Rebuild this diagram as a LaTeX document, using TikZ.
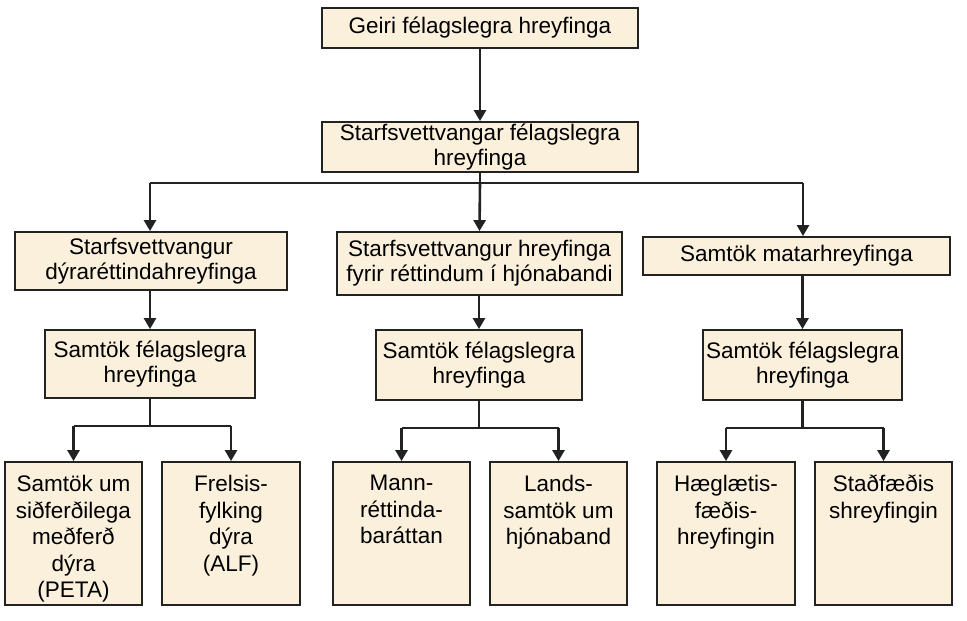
\documentclass[tikz,border=0pt]{standalone}
\usepackage{fontspec}
\setmainfont{Liberation Sans}
\usetikzlibrary{arrows.meta}
\definecolor{boxfill}{HTML}{FBF0DC}
\definecolor{ink}{HTML}{222222}
\begin{document}
\begin{tikzpicture}[x=1pt,y=-1pt,
  box/.style={draw=ink,line width=1.8pt,fill=boxfill,inner sep=0pt,font=\fontsize{22.5}{25}\selectfont,align=center},
  lab/.style={inner sep=0pt,font=\fontsize{22.5}{26.5}\selectfont,align=center,anchor=north},
  con/.style={draw=ink,line width=2.6pt},
  arr/.style={con,-{Triangle[length=11pt,width=12pt]}}]
\useasboundingbox (0,0) rectangle (967,621);
\newcommand{\bx}[6]{\node[box,minimum width=#4-#2,minimum height=#5-#3] (#1) at ({(#2+#4)/2},{(#3+#5)/2}) {#6};}
\bx{top}{322}{8}{638}{48}{Geiri félagslegra hreyfinga}
\bx{mid}{322}{122}{638}{172}{Starfsvettvangar félagslegra\\hreyfinga}
\bx{a}{15}{232}{287}{290}{Starfsvettvangur\\dýraréttindahreyfinga}
\bx{b}{337}{232}{622}{295}{Starfsvettvangur hreyfinga\\fyrir réttindum í hjónabandi}
\bx{c}{643}{237}{950}{275}{Samtök matarhreyfinga}
\bx{a2}{45}{330}{255}{398}{Samtök félagslegra\\hreyfinga}
\bx{b2}{376}{330}{582}{400}{Samtök félagslegra\\hreyfinga}
\bx{c2}{703}{330}{902}{400}{Samtök félagslegra\\hreyfinga}
\bx{a3}{5}{462}{142}{605}{}
\bx{a4}{162}{462}{300}{605}{}
\bx{b3}{333}{462}{470}{605}{}
\bx{b4}{490}{462}{627}{605}{}
\bx{c3}{657}{462}{795}{605}{}
\bx{c4}{815}{462}{952}{605}{}
\node[lab] (ta3) at ([yshift=-14pt]a3.north) {Samtök um\\siðferðilega\\meðferð\\dýra\\(PETA)};
\node[lab] (ta4) at ([yshift=-14pt]a4.north) {Frelsis-\\fylking\\dýra\\(ALF)};
\node[lab] (tb3) at ([yshift=-14pt]b3.north) {Mann-\\réttinda-\\baráttan};
\node[lab] (tb4) at ([yshift=-14pt]b4.north) {Lands-\\samtök um\\hjónaband};
\node[lab] (tc3) at ([yshift=-14pt]c3.north) {Hæglætis-\\fæðis-\\hreyfingin};
\node[lab] (tc4) at ([yshift=-14pt]c4.north) {Staðfæðis\\shreyfingin};
\draw[arr] (top) -- (mid);
\coordinate (h1) at (150,183);
\coordinate (h2) at (803,183);
\draw[con] (mid.south) -- (480,183);
\draw[con] (h1) -- (h2);
\draw[arr] (h1) -- (a.north -| h1);
\draw[arr] (480,183) -- (b.north);
\draw[arr] (h2) -- (c.north -| h2);
\draw[arr] (a.south -| a2.north) -- (a2.north);
\draw[arr] (b.south -| b2.north) -- (b2.north);
\draw[arr] (c.south -| c2.north) -- (c2.north);
\foreach \p/\l/\r in {a2/a3/a4,b2/b3/b4,c2/c3/c4}{
  \draw[con] (\p.south) -- ++(0,27) coordinate (\p j);
  \draw[arr] (\p j -| \l) -- (\l.north);
  \draw[arr] (\p j -| \r) -- (\r.north);
  \draw[con] (\p j -| \l) -- (\p j -| \r);
}
\end{tikzpicture}
\end{document}
